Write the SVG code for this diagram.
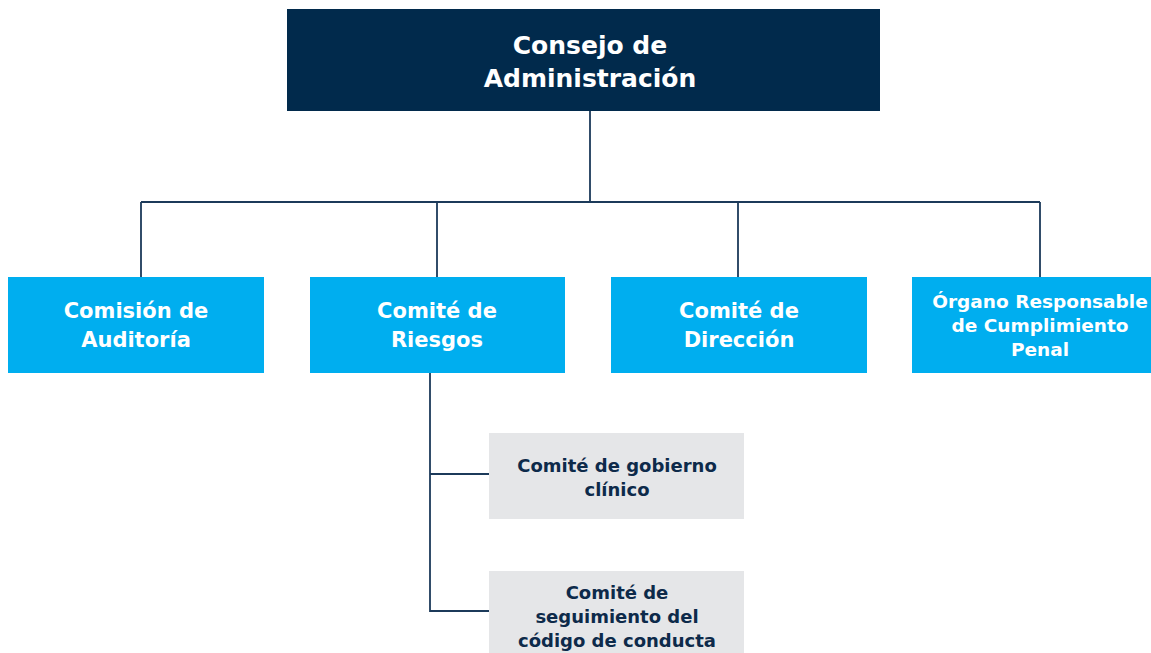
<svg xmlns="http://www.w3.org/2000/svg" width="1151" height="653" viewBox="0 0 1151 653">
<style>
.top{fill:#012a4c}
.blue{fill:#00aeef}
.gray{fill:#e5e6e8}
.wt{fill:#fff;font-family:"DejaVu Sans","Liberation Sans",sans-serif;font-weight:bold;text-anchor:middle}
.dt{fill:#0d2a4a;font-family:"DejaVu Sans","Liberation Sans",sans-serif;font-weight:bold;text-anchor:middle;font-size:18px}
.ln{stroke:#1c3a5a;stroke-width:1.8;fill:none}
</style>
<rect width="1151" height="653" fill="#fff"/>
<g id="connectors">
<path class="ln" d="M590 111V202M141 202H1040M141 202V277M437 202V277M738 202V277M1040 202V277"/>
<path class="ln" d="M430 373V611H489M430 474H489"/>
</g>
<g id="n-consejo">
<rect class="top" x="287" y="9" width="593" height="102"/>
<text class="wt" font-size="25"><tspan x="590" y="54">Consejo de</tspan><tspan x="590" y="87">Administración</tspan></text>
</g>
<g id="n-auditoria">
<rect class="blue" x="8" y="277" width="256" height="96"/>
<text class="wt" font-size="21"><tspan x="136" y="318">Comisión de</tspan><tspan x="136" y="347">Auditoría</tspan></text>
</g>
<g id="n-riesgos">
<rect class="blue" x="310" y="277" width="255" height="96"/>
<text class="wt" font-size="21"><tspan x="437" y="318">Comité de</tspan><tspan x="437" y="347">Riesgos</tspan></text>
</g>
<g id="n-direccion">
<rect class="blue" x="611" y="277" width="256" height="96"/>
<text class="wt" font-size="21"><tspan x="739" y="318">Comité de</tspan><tspan x="739" y="347">Dirección</tspan></text>
</g>
<g id="n-organo">
<rect class="blue" x="912" y="277" width="239" height="96"/>
<text class="wt" font-size="18.5"><tspan x="1040" y="308">Órgano Responsable</tspan><tspan x="1040" y="332">de Cumplimiento</tspan><tspan x="1040" y="356">Penal</tspan></text>
</g>
<g id="n-gobierno">
<rect class="gray" x="489" y="433" width="255" height="86"/>
<text class="dt"><tspan x="617" y="472">Comité de gobierno</tspan><tspan x="617" y="496">clínico</tspan></text>
</g>
<g id="n-seguimiento">
<rect class="gray" x="489" y="571" width="255" height="82"/>
<text class="dt"><tspan x="617" y="599">Comité de</tspan><tspan x="617" y="623">seguimiento del</tspan><tspan x="617" y="647">código de conducta</tspan></text>
</g>
</svg>
